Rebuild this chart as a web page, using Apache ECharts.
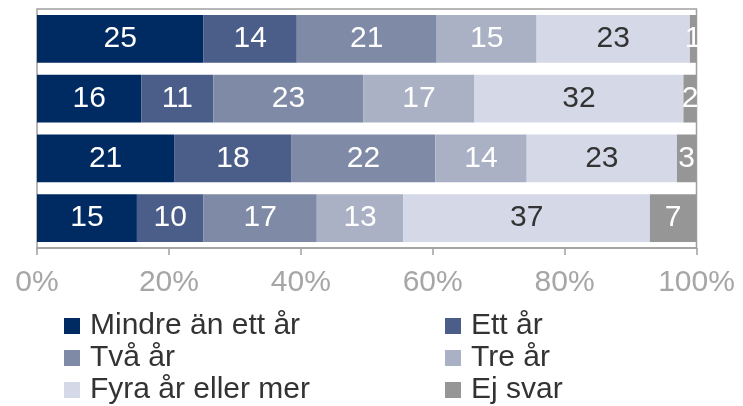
<!DOCTYPE html>
<html>
<head>
<meta charset="utf-8">
<script src="https://cdn.jsdelivr.net/npm/echarts@6/dist/echarts.min.js"></script>
<style>
	html, body { margin: 0; padding: 0; background: #fff; }
	#mainChart { width: 743px; height: 406px; }
</style>
</head>
<body>
<div id="mainChart"></div>
<script>
	// rows, top to bottom
	var categories = ['A', 'B', 'C', 'D'];
	var seriesNames = ['Mindre än ett år', 'Ett år', 'Två år', 'Tre år', 'Fyra år eller mer', 'Ej svar'];
	var mindre = [25, 16, 21, 15];
	var ettAr = [14, 11, 18, 10];
	var tvaAr = [21, 23, 22, 17];
	var treAr = [15, 17, 14, 13];
	var fyraAr = [23, 32, 23, 37];
	var ejSvar = [1, 2, 3, 7];
	var xTicks = [0, 20, 40, 60, 80, 100];

	var colors = ['#002a62', '#4b5e89', '#7f8aa7', '#aab1c5', '#d5d9e7', '#969696'];
	var labelColors = ['#fff', '#fff', '#fff', '#fff', '#333', '#fff'];
	var values = [mindre, ettAr, tvaAr, treAr, fyraAr, ejSvar];

	// each row is drawn as 100 %
	var totals = categories.map(function(c, r) {
		var s = 0;
		values.forEach(function(v) { s += v[r]; });
		return s;
	});

	var series = seriesNames.map(function(name, i) {
		return {
			name: name,
			type: 'bar',
			stack: 'all',
			barCategoryGap: '20%',
			itemStyle: { color: colors[i] },
			label: {
				show: true,
				position: 'inside',
				color: labelColors[i],
				fontSize: 30,
				fontFamily: 'Liberation Sans',
				formatter: function(p) { return values[i][p.dataIndex]; }
			},
			data: values[i].map(function(v, r) { return v / totals[r] * 100; })
		};
	});

	var legendText = { color: '#333', fontSize: 30, fontFamily: 'Liberation Sans', lineHeight: 29, padding: [0, 0, 0, 5] };

	var myChart = echarts.init(document.getElementById('mainChart'));
	myChart.setOption({
		animation: false,
		grid: { left: 37, right: 46.5, top: 9, bottom: 158, show: true, borderColor: '#a0a0a0', borderWidth: 1.5 },
		xAxis: {
			type: 'value',
			min: xTicks[0],
			max: xTicks[xTicks.length - 1],
			interval: 20,
			axisLine: { show: true, lineStyle: { color: '#a0a0a0', width: 1.5 } },
			axisTick: { show: true, length: 7, lineStyle: { color: '#a0a0a0', width: 1.5 } },
			splitLine: { show: false },
			axisLabel: { formatter: '{value}%', color: '#a6a6a6', fontSize: 30, fontFamily: 'Liberation Sans', margin: 20 }
		},
		yAxis: {
			type: 'category',
			inverse: true,
			data: categories,
			axisLine: { show: false },
			axisTick: { show: false },
			axisLabel: { show: false }
		},
		legend: [{
			data: [seriesNames[0], seriesNames[2], seriesNames[4]],
			orient: 'vertical', left: 64, top: 311, padding: 0,
			icon: 'rect', itemWidth: 16, itemHeight: 16, itemGap: 2,
			textStyle: legendText
		}, {
			data: [seriesNames[1], seriesNames[3], seriesNames[5]],
			orient: 'vertical', left: 445, top: 311, padding: 0,
			icon: 'rect', itemWidth: 16, itemHeight: 16, itemGap: 2,
			textStyle: legendText
		}],
		series: series
	});
</script>
</body>
</html>
